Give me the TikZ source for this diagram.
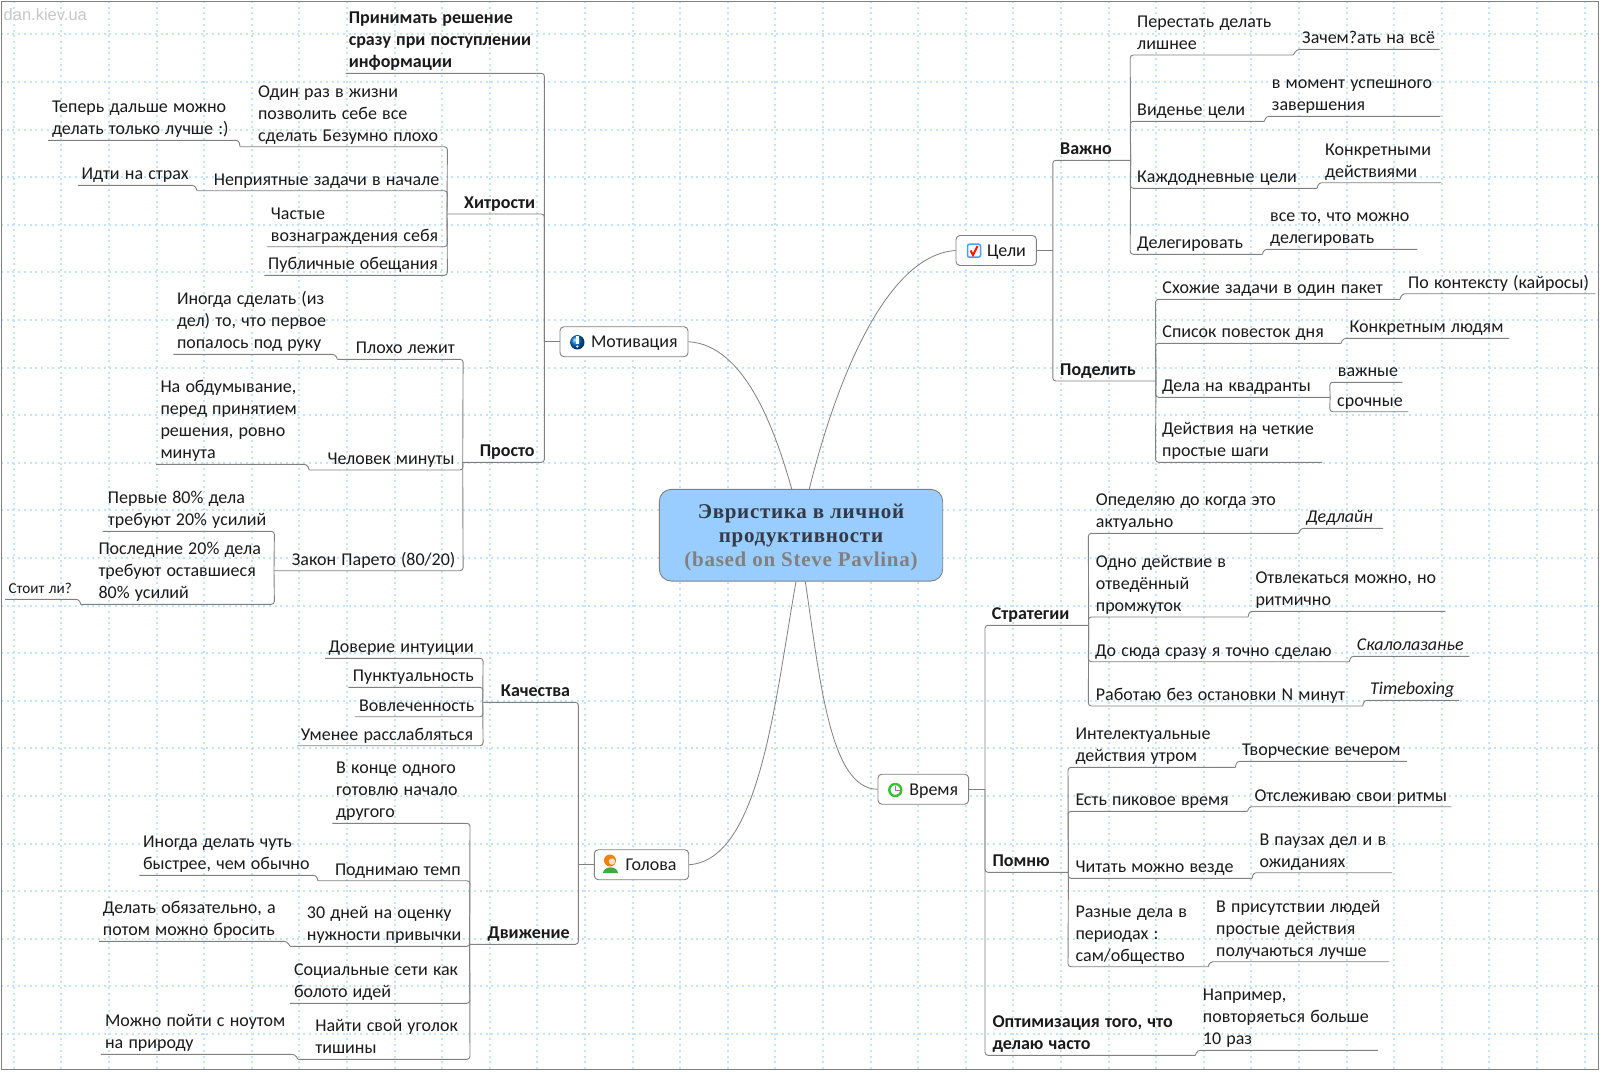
\documentclass[tikz,border=0pt]{standalone}
\usepackage{fontspec}
\setmainfont{Carlito}
\newfontfamily\titlefont[LetterSpace=3.4]{Liberation Serif}
\newfontfamily\markfont{Liberation Sans}
\usepackage{xcolor}
\usetikzlibrary{calc}
\definecolor{map-blue}{RGB}{153,204,255}
\definecolor{map-line}{RGB}{128,128,128}
\definecolor{map-dots}{RGB}{198,226,248}
\definecolor{map-text}{RGB}{26,26,26}
\definecolor{map-title}{RGB}{50,58,72}
\tikzset{
  gridline/.style={map-dots, line width=2pt, dash pattern=on 2pt off 3.7pt},
  link/.style={map-line, line width=0.9pt, rounded corners=3pt},
  curve/.style={map-line, line width=0.8pt},
  topic/.style 2 args={anchor=south west, inner sep=0pt, align=left, text=map-text,
    font=\fontsize{18}{22}\selectfont, text width=#1pt,
    execute at begin node={\leftskip=#2pt\relax\spaceskip=.288em\relax},
    execute at end node={\rule[-5.3pt]{0pt}{1pt}}},
  bold/.style={font=\fontsize{18}{22}\selectfont\bfseries},
  slant/.style={font=\fontsize{18}{22}\selectfont\itshape},
  tiny/.style={font=\fontsize{15.2}{18}\selectfont},
  topbox/.style 2 args={draw=map-line, fill=white, line width=0.9pt, rounded corners=4pt,
    inner sep=0pt, minimum height=30pt, align=left, text=map-text,
    text height=14pt, text depth=1.6pt,
    font=\fontsize{18}{22}\selectfont, text width=#1pt,
    execute at begin node={\leftskip=#2pt\relax}},
  rootbox/.style={draw=map-line, fill=map-blue, line width=0.9pt, rounded corners=12pt,
    inner sep=0pt, minimum width=283.4pt, minimum height=91.7pt, align=center, text=map-title,
    text height=67.4pt, font=\fontsize{21}{24.3}\titlefont\bfseries}
}

\begin{document}
\begin{tikzpicture}[x=1pt, y=-1pt]
  \useasboundingbox (0,0) rectangle (1600,1071);
  \fill[white] (0,0) rectangle (1600,1071);

  % grid
  \foreach \x in {13.8,61.4,...,1600} \draw[gridline] (\x,1) -- (\x,1070);
  \foreach \y in {34.4,82,...,1071} \draw[gridline] (1,\y) -- (1599,\y);
  \draw[map-line, line width=1pt] (1.2,1.5) rectangle (1598.6,1069.5);
  \node[inner sep=0pt, anchor=west, text=black!22, font=\fontsize{16.5}{18}\markfont] (mark) at (3.5,15) {dan.kiev.ua};

  % root and main topics
  \node[rootbox] (root) at (801,535.2) {Эвристика в личной\\продуктивности\\{\color{gray}(based on Steve Pavlina)}};
  \node[topbox={128}{31}] (motiv) at (624,341.7) {Мотивация};
  \node[topbox={94.4}{31.4}] (golova) at (641.5,864.7) {Голова};
  \node[topbox={80.4}{31}] (celi) at (996.2,250.5) {Цели};
  \node[topbox={90.7}{31.3}] (vremya) at (923.3,789.2) {Время};

  \draw[curve] (motiv.east) .. controls (745,345) and (775,430) .. ($(root.north)+(-9.3,0)$);
  \draw[curve] (celi.west) .. controls (885,255) and (835,385) .. ($(root.north)+(8.3,0)$);
  \draw[curve] (golova.east) .. controls (760,860) and (775,700) .. ($(root.south)+(-5,0)$);
  \draw[curve] (vremya.west) .. controls (830,789) and (820,680) .. ($(root.south)+(4.3,0)$);

  % icons
  \shade[ball color=blue!45!cyan!80!black] (577.3,342.3) circle (7.2);
  \fill[white] (576.2,336) rectangle (578.6,344);
  \fill[white] (577.4,346.5) circle (1.2);
  \draw[blue!55!cyan!70, line width=1.5pt, fill=white, rounded corners=2pt] (967.5,244.2) rectangle (980.5,257.2);
  \draw[red!80!orange, line width=2pt] (970.5,250.5) -- (973,255) -- (977.5,246);
  \fill[green!55!black!75] (603,873) .. controls (603.5,865.5) and (617.5,865.5) .. (618,873) -- cycle;
  \fill[orange!75!brown] (610,860.5) circle (6);
  \fill[orange!25] (612,861.5) circle (3.2);
  \draw[green!70!black!80, line width=2.4pt, fill=white] (895.3,790) circle (6);
  \draw[violet!60, line width=1.4pt] (895.3,785.5) -- (895.3,790.5) -- (899.5,790.5);

  % motivation
  \node[topic={198.3}{2.9}, bold] (prinim) at (345.7,73.3) {Принимать решение\\сразу при поступлении\\информации};
  \node[topic={97}{17}, bold] (hitr) at (447,214) {Хитрости};
  \node[topic={81.3}{17}, bold] (prosto) at (462.7,462.3) {Просто};
  \draw[link] (motiv.west) -- (prinim.south east |- motiv.west);
  \draw[link] (prinim.south west) -- (prinim.south east) -- (prinim.south east |- motiv.west);
  \draw[link] (hitr.south west) -- (hitr.south east) -- (hitr.south east |- motiv.west);
  \draw[link] (prosto.south west) -- (prosto.south east) -- (prosto.south east |- motiv.west);

  % tricks
  \node[topic={207}{17.9}] (odin) at (240,146.7) {Один раз в жизни\\позволить себе все\\сделать Безумно плохо};
  \node[topic={190.6}{3.8}] (teper) at (48,140.3) {Теперь дальше можно\\делать только лучше :)};
  \node[topic={250}{16.6}] (nepr) at (197,190.7) {Неприятные задачи в начале};
  \node[topic={116.7}{3.5}] (idti) at (77.9,185.3) {Идти на страх};
  \node[topic={180}{3.7}] (chast) at (267,246.7) {Частые\\вознаграждения себя};
  \node[topic={182.7}{3.7}] (publ) at (264.3,275.3) {Публичные обещания};
  \draw[link] (odin.south west) -- (odin.south east) -- (hitr.south west);
  \draw[link] (teper.south west) -- (teper.south east) -- (odin.south west);
  \draw[link] (nepr.south west) -- (nepr.south east) -- (hitr.south west);
  \draw[link] (idti.south west) -- (idti.south east) -- (nepr.south west);
  \draw[link] (chast.south west) -- (chast.south east) -- (hitr.south west);
  \draw[link] (publ.south west) -- (publ.south east) -- (hitr.south west);

  % simple
  \node[topic={125.4}{18.4}] (ploho) at (337.3,359.3) {Плохо лежит};
  \node[topic={161.7}{3.5}] (inog) at (173.3,354.3) {Иногда сделать (из\\дел) то, что первое\\попалось под руку};
  \node[topic={153.4}{18}] (chelov) at (309.3,470) {Человек минуты};
  \node[topic={150.7}{4.3}] (obdum) at (156,464.3) {На обдумывание,\\перед принятием\\решения, ровно\\минута};
  \node[topic={188.7}{17.7}] (zakon) at (274,570.7) {Закон Парето (80/20)};
  \node[topic={171.3}{5}] (perv) at (102.7,531.3) {Первые 80\% дела\\требуют 20\% усилий};
  \node[topic={193.3}{17.6}] (posl) at (80.7,604.3) {Последние 20\% дела\\требуют оставшиеся\\80\% усилий};
  \node[topic={73.7}{3.3}, tiny] (stoit) at (5,599.3) {Стоит ли?};
  \draw[link] (ploho.south west) -- (ploho.south east) -- (prosto.south west);
  \draw[link] (inog.south west) -- (inog.south east) -- (ploho.south west);
  \draw[link] (chelov.south west) -- (chelov.south east) -- (prosto.south west);
  \draw[link] (obdum.south west) -- (obdum.south east) -- (chelov.south west);
  \draw[link] (zakon.south west) -- (zakon.south east) -- (prosto.south west);
  \draw[link] (perv.south west) -- (perv.south east) -- (zakon.south west);
  \draw[link] (posl.south west) -- (posl.south east) -- (zakon.south west);
  \draw[link] (stoit.south west) -- (stoit.south east) -- (posl.south west);

  % head
  \node[topic={95.3}{18}, bold] (kach) at (482.7,702.3) {Качества};
  \node[topic={108.4}{17.9}, bold] (dvizh) at (469.6,944.3) {Движение};
  \draw[link] (golova.west) -- (kach.south east |- golova.west);
  \draw[link] (kach.south west) -- (kach.south east) -- (kach.south east |- golova.west);
  \draw[link] (dvizh.south west) -- (dvizh.south east) -- (dvizh.south east |- golova.west);

  % qualities
  \node[topic={157.7}{3.3}] (dover) at (325,658.3) {Доверие интуиции};
  \node[topic={134.4}{4.4}] (punkt) at (348.3,687.3) {Пунктуальность};
  \node[topic={127.7}{4}] (vovl) at (355,716.7) {Вовлеченность};
  \node[topic={185.4}{3.4}] (umen) at (297.3,745.7) {Уменее расслабляться};
  \draw[link] (dover.south west) -- (dover.south east) -- (kach.south west);
  \draw[link] (punkt.south west) -- (punkt.south east) -- (kach.south west);
  \draw[link] (vovl.south west) -- (vovl.south east) -- (kach.south west);
  \draw[link] (umen.south west) -- (umen.south east) -- (kach.south west);

  % movement
  \node[topic={137.3}{3.7}] (vkonce) at (332.3,823.3) {В конце одного\\готовлю начало\\другого};
  \node[topic={151.7}{16.9}] (podn) at (317.9,880.7) {Поднимаю темп};
  \node[topic={176.7}{3.6}] (inogd) at (139.3,875.3) {Иногда делать чуть\\быстрее, чем обычно};
  \node[topic={179.6}{16.7}] (dney) at (290,946.3) {30 дней на оценку\\нужности привычки};
  \node[topic={187.6}{3.7}] (delat) at (99,941.3) {Делать обязательно, а\\потом можно бросить};
  \node[topic={179.4}{3.6}] (socs) at (290.2,1003.3) {Социальные сети как\\болото идей};
  \node[topic={171.6}{17.2}] (nait) at (298,1059.3) {Найти свой уголок\\тишины};
  \node[topic={193.7}{4}] (mozhno) at (100.9,1054.3) {Можно пойти с ноутом\\на природу};
  \draw[link] (vkonce.south west) -- (vkonce.south east) -- (dvizh.south west);
  \draw[link] (podn.south west) -- (podn.south east) -- (dvizh.south west);
  \draw[link] (inogd.south west) -- (inogd.south east) -- (podn.south west);
  \draw[link] (dney.south west) -- (dney.south east) -- (dvizh.south west);
  \draw[link] (delat.south west) -- (delat.south east) -- (dney.south west);
  \draw[link] (socs.south west) -- (socs.south east) -- (dvizh.south west);
  \draw[link] (nait.south west) -- (nait.south east) -- (dvizh.south west);
  \draw[link] (mozhno.south west) -- (mozhno.south east) -- (nait.south west);

  % goals
  \node[topic={77.4}{7.2}, bold] (vazhno) at (1052.8,160.3) {Важно};
  \node[topic={102.7}{7.2}, bold] (podel) at (1052.8,381) {Поделить};
  \draw[link] (celi.east) -- (vazhno.south west |- celi.east);
  \draw[link] (vazhno.south east) -- (vazhno.south west) -- (vazhno.south west |- celi.east);
  \draw[link] (podel.south east) -- (podel.south west) -- (podel.south west |- celi.east);

  % important
  \node[topic={162.5}{6.8}] (perest) at (1130.2,55) {Перестать делать\\лишнее};
  \node[topic={142.2}{5}] (zachem) at (1297,49.3) {Зачем?ать на всё};
  \node[topic={133.8}{6.8}] (viden) at (1130.2,121.3) {Виденье цели};
  \node[topic={174}{5.7}] (vmom) at (1266,116.3) {в момент успешного\\завершения};
  \node[topic={186.5}{6.8}] (kazhd) at (1130.2,188.3) {Каждодневные цели};
  \node[topic={122}{6.2}] (konkr) at (1318.8,182.7) {Конкретными\\действиями};
  \node[topic={131.8}{6.8}] (deleg) at (1130.2,254.3) {Делегировать};
  \node[topic={152.9}{6}] (vseto) at (1264,249.3) {все то, что можно\\делегировать};
  \draw[link] (perest.south east) -- (perest.south west) -- (vazhno.south east);
  \draw[link] (zachem.south east) -- (zachem.south west) -- (perest.south east);
  \draw[link] (viden.south east) -- (viden.south west) -- (vazhno.south east);
  \draw[link] (vmom.south east) -- (vmom.south west) -- (viden.south east);
  \draw[link] (kazhd.south east) -- (kazhd.south west) -- (vazhno.south east);
  \draw[link] (konkr.south east) -- (konkr.south west) -- (kazhd.south east);
  \draw[link] (deleg.south east) -- (deleg.south west) -- (vazhno.south east);
  \draw[link] (vseto.south east) -- (vseto.south west) -- (deleg.south east);

  % split up
  \node[topic={244.1}{6.7}] (shozh) at (1155.5,299.3) {Схожие задачи в один пакет};
  \node[topic={192.9}{6}] (pokont) at (1402,293.7) {По контексту (кайросы)};
  \node[topic={185.2}{6.7}] (spisok) at (1155.5,343.3) {Список повесток дня};
  \node[topic={165.6}{6.5}] (lyudi) at (1343,338.3) {Конкретным людям};
  \node[topic={174.2}{6.3}] (kvadr) at (1155.5,397.3) {Дела на квадранты};
  \node[topic={72.3}{8}] (vazhn) at (1329.7,382.3) {важные};
  \node[topic={78.3}{7.3}] (sroch) at (1329.7,411.7) {срочные};
  \node[topic={166.2}{6.5}] (deistv) at (1155.5,462.3) {Действия на четкие\\простые шаги};
  \draw[link] (shozh.south east) -- (shozh.south west) -- (podel.south east);
  \draw[link] (pokont.south east) -- (pokont.south west) -- (shozh.south east);
  \draw[link] (spisok.south east) -- (spisok.south west) -- (podel.south east);
  \draw[link] (lyudi.south east) -- (lyudi.south west) -- (spisok.south east);
  \draw[link] (kvadr.south east) -- (kvadr.south west) -- (podel.south east);
  \draw[link] (vazhn.south east) -- (vazhn.south west) -- (kvadr.south east);
  \draw[link] (sroch.south east) -- (sroch.south west) -- (kvadr.south east);
  \draw[link] (deistv.south east) -- (deistv.south west) -- (podel.south east);

  % time
  \node[topic={103.3}{6.7}, bold] (strat) at (985,625.3) {Стратегии};
  \node[topic={83}{7.3}, bold] (pomnyu) at (985,872.3) {Помню};
  \node[topic={210}{7.3}, bold] (optim) at (985,1055.3) {Оптимизация того, что\\делаю часто};
  \node[topic={180.2}{5.4}] (naprim) at (1197.3,1050.3) {Например,\\повторяеться больше\\10 раз};
  \draw[link] (vremya.east) -- (strat.south west |- vremya.east);
  \draw[link] (strat.south east) -- (strat.south west) -- (strat.south west |- vremya.east);
  \draw[link] (pomnyu.south east) -- (pomnyu.south west) -- (pomnyu.south west |- vremya.east);
  \draw[link] (optim.south east) -- (optim.south west) -- (optim.south west |- vremya.east);
  \draw[link] (naprim.south east) -- (naprim.south west) -- (optim.south east);

  % strategies
  \node[topic={210}{7.4}] (opred) at (1088.3,533.3) {Опеделяю до когда это\\актуально};
  \node[topic={82}{5.3}, slant] (dedl) at (1300.7,528.3) {Дедлайн};
  \node[topic={159.4}{7.4}] (odno) at (1088.3,617) {Одно действие в\\отведённый\\промжуток};
  \node[topic={195.7}{6}] (otvl) at (1249.3,611.3) {Отвлекаться можно, но\\ритмично};
  \node[topic={260.7}{6.7}] (dosyuda) at (1088.3,661.7) {До сюда сразу я точно сделаю};
  \node[topic={118.3}{6}, slant] (skalo) at (1350.7,656.3) {Скалолазанье};
  \node[topic={274}{7.4}] (rabot) at (1088.3,706) {Работаю без остановки N минут};
  \node[topic={94.7}{6}, slant] (timeb) at (1364,700.3) {Timeboxing};
  \draw[link] (opred.south east) -- (opred.south west) -- (strat.south east);
  \draw[link] (dedl.south east) -- (dedl.south west) -- (opred.south east);
  \draw[link] (odno.south east) -- (odno.south west) -- (strat.south east);
  \draw[link] (otvl.south east) -- (otvl.south west) -- (odno.south east);
  \draw[link] (dosyuda.south east) -- (dosyuda.south west) -- (strat.south east);
  \draw[link] (skalo.south east) -- (skalo.south west) -- (dosyuda.south east);
  \draw[link] (rabot.south east) -- (rabot.south west) -- (strat.south east);
  \draw[link] (timeb.south east) -- (timeb.south west) -- (rabot.south east);

  % remember
  \node[topic={167}{7.3}] (intel) at (1068,767.3) {Интелектуальные\\действия утром};
  \node[topic={170}{5.3}] (tvor) at (1236.7,761.3) {Творческие вечером};
  \node[topic={179.3}{7.3}] (pikov) at (1068,811.3) {Есть пиковое время};
  \node[topic={202.3}{5.6}] (otsl) at (1248.7,806.7) {Отслеживаю свои ритмы};
  \node[topic={183.7}{7.3}] (chitat) at (1068,878.3) {Читать можно везде};
  \node[topic={138.5}{6}] (vpauz) at (1253.3,872.7) {В паузах дел и в\\ожиданиях};
  \node[topic={139.7}{7.3}] (raznye) at (1068,966.7) {Разные дела в\\периодах :\\сам/общество};
  \node[topic={178.8}{6}] (vpris) at (1210,961.7) {В присутствии людей\\простые действия\\получаються лучше};
  \draw[link] (intel.south east) -- (intel.south west) -- (pomnyu.south east);
  \draw[link] (tvor.south east) -- (tvor.south west) -- (intel.south east);
  \draw[link] (pikov.south east) -- (pikov.south west) -- (pomnyu.south east);
  \draw[link] (otsl.south east) -- (otsl.south west) -- (pikov.south east);
  \draw[link] (chitat.south east) -- (chitat.south west) -- (pomnyu.south east);
  \draw[link] (vpauz.south east) -- (vpauz.south west) -- (chitat.south east);
  \draw[link] (raznye.south east) -- (raznye.south west) -- (pomnyu.south east);
  \draw[link] (vpris.south east) -- (vpris.south west) -- (raznye.south east);
\end{tikzpicture}
\end{document}
